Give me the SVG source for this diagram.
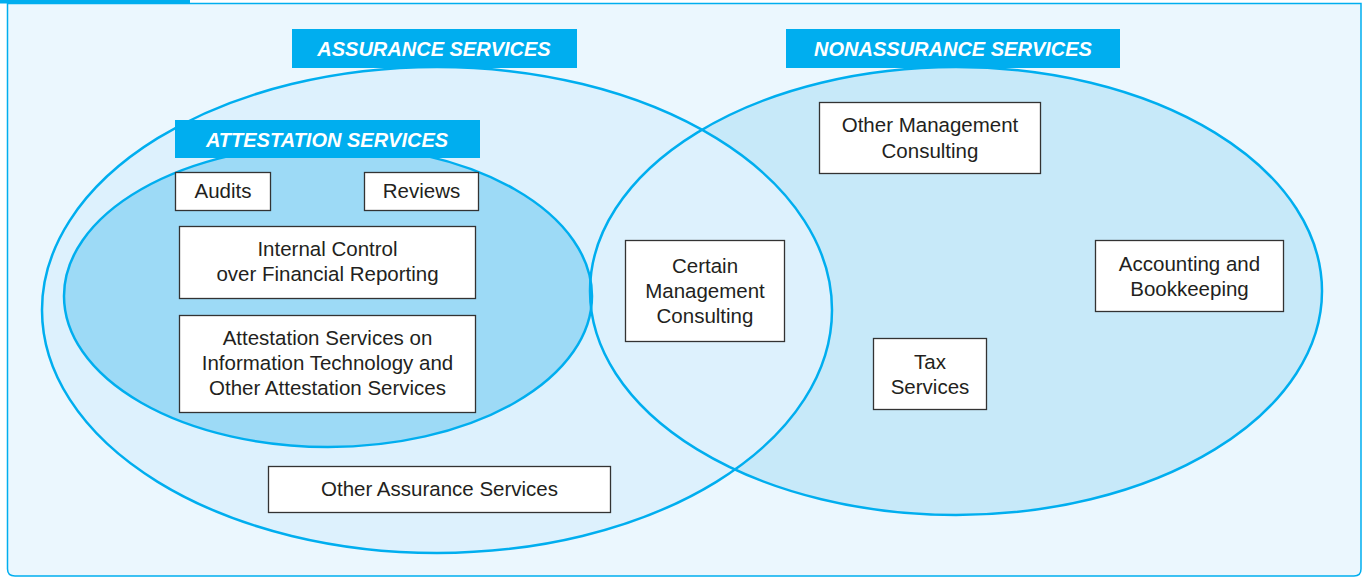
<svg xmlns="http://www.w3.org/2000/svg" width="1365" height="577" viewBox="0 0 1365 577">
<style>
.frame{fill:#EBF7FE;stroke:#00AEEF;stroke-width:1.5}
.ring{fill:none;stroke:#00AEEF;stroke-width:2.5}
.hdr{fill:#00AEEF}
.hdrt{font-family:"Liberation Sans",Arial,sans-serif;font-weight:bold;font-style:italic;font-size:20px;fill:#fff;text-anchor:middle}
.box{fill:#fff;stroke:#333;stroke-width:1.3}
.t{font-family:"Liberation Sans",Arial,sans-serif;font-size:20.5px;fill:#231F20;text-anchor:middle}
</style>
<path class="frame" d="M7.5 3.5 H1361 V569 Q1361 576 1354 576 H15 Q7.5 576 7.5 569 Z"/>
<rect x="0" y="0" width="190" height="3.5" fill="#00AEEF"/>
<g id="ellipses">
<ellipse cx="956" cy="291" rx="366" ry="224" fill="#C7E9F9"/>
<ellipse cx="437" cy="310" rx="395" ry="243" fill="#DDF1FD"/>
<ellipse cx="328" cy="296" rx="264" ry="151" fill="#9DDAF6"/>
<ellipse class="ring" cx="956" cy="291" rx="366" ry="224"/>
<ellipse class="ring" cx="437" cy="310" rx="395" ry="243"/>
<ellipse class="ring" cx="328" cy="296" rx="264" ry="151"/>
</g>
<g id="assurance-header">
<rect class="hdr" x="292" y="29" width="285" height="39"/>
<text class="hdrt" x="434" y="56">ASSURANCE SERVICES</text>
</g>
<g id="nonassurance-header">
<rect class="hdr" x="786" y="29" width="334" height="39"/>
<text class="hdrt" x="953" y="56">NONASSURANCE SERVICES</text>
</g>
<g id="attestation-header">
<rect class="hdr" x="175" y="120" width="305" height="38"/>
<text class="hdrt" x="327" y="147">ATTESTATION SERVICES</text>
</g>
<g id="audits">
<rect class="box" x="175.5" y="172.5" width="95" height="38"/>
<text class="t" x="223" y="198">Audits</text>
</g>
<g id="reviews">
<rect class="box" x="364.5" y="172.5" width="114" height="38"/>
<text class="t" x="421.5" y="198">Reviews</text>
</g>
<g id="internal-control">
<rect class="box" x="179.5" y="226.5" width="296" height="72"/>
<text class="t" x="327.5" y="256">Internal Control</text>
<text class="t" x="327.5" y="281">over Financial Reporting</text>
</g>
<g id="it-attestation">
<rect class="box" x="179.5" y="315.5" width="296" height="97"/>
<text class="t" x="327.5" y="345">Attestation Services on</text>
<text class="t" x="327.5" y="370">Information Technology and</text>
<text class="t" x="327.5" y="395">Other Attestation Services</text>
</g>
<g id="other-assurance">
<rect class="box" x="268.5" y="466.5" width="342" height="46"/>
<text class="t" x="439.5" y="496">Other Assurance Services</text>
</g>
<g id="certain-mc">
<rect class="box" x="625.5" y="240.5" width="159" height="101"/>
<text class="t" x="705" y="273">Certain</text>
<text class="t" x="705" y="298">Management</text>
<text class="t" x="705" y="323">Consulting</text>
</g>
<g id="other-mc">
<rect class="box" x="819.5" y="102.5" width="221" height="71"/>
<text class="t" x="930" y="132">Other Management</text>
<text class="t" x="930" y="158">Consulting</text>
</g>
<g id="accounting">
<rect class="box" x="1095.5" y="240.5" width="188" height="71"/>
<text class="t" x="1189.5" y="271">Accounting and</text>
<text class="t" x="1189.5" y="296">Bookkeeping</text>
</g>
<g id="tax">
<rect class="box" x="873.5" y="338.5" width="113" height="71"/>
<text class="t" x="930" y="369">Tax</text>
<text class="t" x="930" y="394">Services</text>
</g>
<g id="connectors"></g>
</svg>
